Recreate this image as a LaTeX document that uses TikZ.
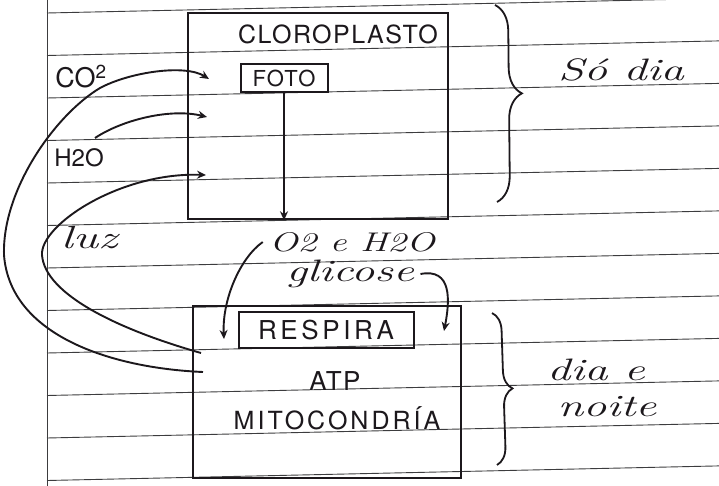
\documentclass[tikz,border=0pt]{standalone}
\usepackage{fontspec}
\usepackage{graphicx}
\newfontfamily\capsfont{TeX Gyre Heros}
\usetikzlibrary{arrows.meta,decorations.pathreplacing}
\definecolor{ink}{RGB}{28,24,28}
\definecolor{ruling}{RGB}{60,60,62}
\newcommand\hwx[2]{\scalebox{#1}[1]{#2}}
\begin{document}
\begin{tikzpicture}[x=1pt,y=-1pt,
  box/.style={draw=ink, line width=2.3pt, inner sep=0pt},
  conn/.style={draw=ink, line width=1.9pt, -{Stealth[length=9pt,width=8pt]}},
  rule/.style={draw=ruling, line width=0.9pt},
  capsf/.style={text=ink, font=\capsfont\fontsize{#1}{#1}\selectfont},
  hand/.style={text=ink, font=\itshape\fontsize{#1}{#1}\selectfont},
  brc/.style={draw=ink, line width=1.8pt, decorate, decoration={brace, amplitude=#1}}
]
\useasboundingbox (0,0) rectangle (719,486);
\fill[white] (0,0) rectangle (719,486);
% ruled paper
\foreach \k in {0,...,11} {\draw[rule] (47,{13+42.5*\k}) -- (719,{13+42.5*\k-14.6});}
\draw[rule] (47,0) -- (47,486);

% chloroplast
\node[box, minimum width=260pt, minimum height=206pt, anchor=north west] (cloro) at (187,12) {};
\node[capsf=25] (cloroLbl) at (338,34) {\addfontfeature{LetterSpace=6}CLOROPLASTO};
\node[box, line width=2pt, minimum width=87pt, minimum height=28pt, capsf=22] (foto) at (284,78) {\addfontfeature{LetterSpace=6}FOTO};
\draw[conn] (foto.south) -- (foto.south |- cloro.south);

% mitochondria
\node[box, minimum width=268pt, minimum height=172pt, anchor=north west] (mito) at (192,305) {};
\node[box, line width=2pt, minimum width=175pt, minimum height=36pt, capsf=26] (resp) at (326,330) {\addfontfeature{LetterSpace=14}RESPIRA};
\node[capsf=26] (atp) at (335,381) {\addfontfeature{LetterSpace=6}ATP};
\node[capsf=25] (mitoLbl) at (337,418) {\addfontfeature{LetterSpace=12}MITOCONDRÍA};

% left labels
\node[capsf=27] (co2) at (81,77) {CO\textsuperscript{2}};
\node[capsf=24] (h2o) at (79,158) {H2O};
\node[hand=32] (luz) at (89,238) {\hwx{1.5}{luz}};

% middle labels
\node[hand=27] (o2lbl) at (352,242) {\hwx{1.4}{O2 e H2O}};
\node[hand=31] (glic) at (350,274) {\hwx{1.5}{glicose}};

% braces and right labels
\draw[brc=26pt, decoration={aspect=0.45}] (495,5) -- (497,202);
\draw[brc=18pt] (492,313) -- (497,465);
\node[hand=31] (sodia) at (621,70) {\hwx{1.5}{Só dia}};
\node[hand=31] (diae) at (596,370) {\hwx{1.5}{dia e}};
\node[hand=31] (noite) at (607,407) {\hwx{1.5}{noite}};

% connector end points
\coordinate (inCO) at (209,79);
\coordinate (inH) at (207,117);
\coordinate (inL) at (206,175);
\coordinate (outA) at (203,372);
\coordinate (outB) at (201,353);
\coordinate (hstart) at (95,138);
\coordinate (inR1) at (224,339);
\coordinate (inR2) at (444,331);

% connectors
\draw[conn] (outA) .. controls (110,368) and (10,335) .. (4,255)
  .. controls (2,190) and (55,115) .. (100,88)
  .. controls (130,72) and (185,64) .. (inCO);
\draw[conn] (hstart) .. controls (122,120) and (170,108) .. (inH);
\draw[conn] (outB) .. controls (120,330) and (45,295) .. (42,255)
  .. controls (40,225) and (120,172) .. (inL);
\draw[conn] ([xshift=-3pt]o2lbl.west) .. controls (240,258) and (222,300) .. (inR1);
\draw[conn] ([xshift=3pt]glic.east) .. controls (452,268) and (450,300) .. (inR2);
\end{tikzpicture}
\end{document}
